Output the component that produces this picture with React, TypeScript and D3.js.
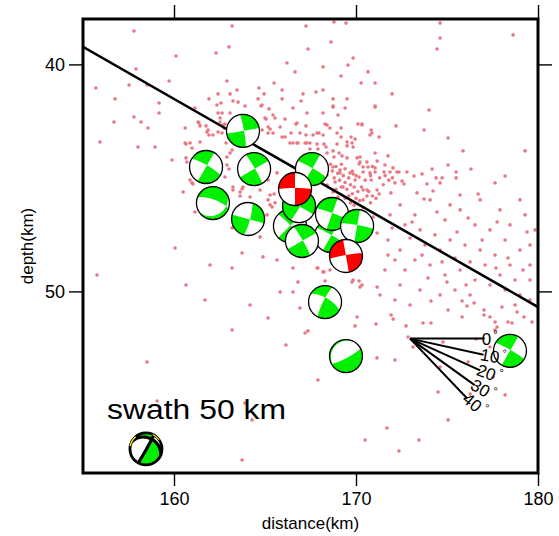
import React, { useEffect, useRef } from "react";
import * as d3 from "d3";

const xTicks = [160, 170, 180];
const yTicks = [40, 50];

// top of slab
const slabDistance = [155, 180];
const slabDepth = [39.23, 50.69];

// hypocentres [distance km, depth km]
const quakes: [number, number][] = [
  [157.8, 38.53], [163.19, 38.31], [163.02, 39.23], [162.31, 39.5], [160.11, 39.63], [157.91, 40.2],
  [155.71, 41.04], [157.53, 40.91], [158.52, 40.91], [159.73, 40.73], [162.91, 40.73], [156.76, 41.52],
  [159.18, 41.7], [159.18, 42.14], [157.8, 42.32], [156.7, 42.54], [158.19, 42.54], [158.57, 42.8],
  [155.93, 43.42], [158.02, 43.64], [158.96, 43.64], [159.89, 44.21], [160.66, 43.51], [161.15, 41.92],
  [161.92, 41.52], [162.42, 41.3], [162.58, 41.7], [163.08, 41.3], [163.46, 41.13], [163.52, 41.66],
  [163.24, 41.61], [162.36, 41.79], [162.42, 42.14], [162.64, 42.14], [163.9, 41.83], [164.67, 41.04],
  [164.62, 41.52], [165.5, 40.82], [164.95, 41.3], [165.22, 41.96], [164.78, 41.83], [162.53, 42.54],
  [161.76, 42.71], [161.37, 42.58], [161.43, 42.71], [161.81, 42.98], [161.92, 43.11], [162.14, 43.11],
  [162.42, 42.98], [162.64, 43.02], [162.75, 42.8], [162.8, 42.63], [160.88, 43.46], [160.99, 43.68],
  [162.86, 43.46], [163.08, 43.9], [163.02, 44.61], [162.91, 44.08], [160.66, 44.12], [160.99, 45.22],
  [160.5, 45.62], [163.24, 45.4], [163.63, 45.62], [165.06, 42.41], [165.28, 42.85], [165.17, 43.02],
  [165.55, 42.36], [167.25, 38.31], [168.79, 38.13], [169.45, 38.18], [174.62, 38.18], [174.62, 38.84],
  [174.45, 39.32], [178.63, 38.7], [168.63, 39.01], [167.36, 39.32], [166.21, 39.94], [166.65, 40.33],
  [168.19, 40.11], [169.84, 39.72], [169.56, 40.03], [170.66, 40.33], [169.18, 40.51], [170.28, 40.82],
  [171.05, 40.82], [165.94, 41.13], [167.8, 41.22], [168.19, 41.13], [167.09, 41.3], [171.98, 41.3],
  [165.94, 41.52], [166.98, 41.61], [168.74, 41.52], [169.51, 41.52], [168.74, 41.83], [169.4, 41.92],
  [171.05, 41.83], [166.54, 41.92], [174.01, 42.01], [169.01, 42.23], [166.1, 42.41], [166.7, 42.63],
  [167.25, 42.71], [168.3, 42.63], [168.57, 42.8], [169.18, 42.8], [170.11, 42.63], [170.33, 42.63],
  [172.2, 42.71], [170.83, 42.89], [170.77, 43.11], [171.27, 43.2], [173.74, 42.89], [175.06, 43.24],
  [175.88, 43.81], [179.29, 43.81], [166.43, 43.02], [166.92, 43.02], [167.25, 43.11], [167.64, 43.11],
  [167.97, 43.02], [168.19, 43.11], [165.94, 43.2], [166.54, 43.46], [166.81, 43.46], [167.2, 43.46],
  [167.47, 43.46], [167.86, 43.51], [168.24, 43.51], [168.96, 43.51], [169.18, 43.2], [169.73, 43.2],
  [169.95, 43.29], [169.51, 43.59], [169.78, 43.46], [167.47, 43.73], [167.91, 43.73], [168.35, 43.64],
  [168.74, 43.81], [168.41, 43.9], [169.07, 43.9], [168.79, 44.08], [169.23, 44.03], [169.51, 44.12],
  [170.06, 44.12], [170.22, 44.3], [170.17, 44.39], [170.66, 44.52], [171.16, 44.26], [171.59, 44.43],
  [171.76, 44.03], [172.03, 44.56], [172.36, 44.74], [170.39, 44.74], [170.77, 44.78], [171.05, 44.74],
  [171.54, 44.74], [171.87, 44.74], [172.25, 44.74], [172.8, 44.74], [173.19, 44.92], [173.63, 44.83],
  [174.18, 44.61], [174.4, 45.0], [174.73, 45.0], [175.06, 44.43], [175.5, 44.74], [175.5, 45.0],
  [176.32, 44.61], [178.19, 44.92], [177.64, 45.22], [176.71, 45.71], [173.9, 45.27], [174.23, 45.58],
  [174.62, 45.22], [173.35, 45.66], [173.74, 45.93], [172.64, 45.27], [172.53, 45.14], [172.14, 45.22],
  [171.92, 45.66], [170.39, 45.53], [170.61, 45.53], [171.16, 45.53], [171.27, 45.71], [170.83, 45.09],
  [170.17, 44.96], [169.84, 44.83], [169.67, 44.78], [169.12, 44.65], [168.74, 44.52], [160.61, 43.46],
  [160.71, 44.3], [160.88, 45.09], [161.32, 42.54], [161.87, 42.89], [162.53, 42.36], [162.69, 42.67],
  [163.08, 42.14], [164.84, 41.79], [165.44, 42.23], [165.0, 42.36], [165.17, 42.76], [164.84, 42.89],
  [165.44, 43.02], [165.83, 42.76], [166.1, 43.2], [166.76, 42.58], [166.37, 43.46], [166.76, 43.46],
  [167.31, 43.46], [167.86, 43.02], [168.41, 42.67], [168.96, 43.02], [169.51, 43.42], [169.84, 43.64],
  [170.33, 42.67], [170.88, 43.02], [171.05, 41.88], [168.74, 41.88], [163.19, 43.77], [162.91, 44.43],
  [162.8, 44.96], [163.24, 45.53], [163.79, 45.4], [164.18, 45.84], [164.73, 45.53], [165.17, 45.09],
  [165.66, 44.78], [165.39, 46.28], [165.11, 46.63], [165.17, 45.97], [164.73, 47.6], [163.74, 48.31],
  [163.19, 48.97], [164.89, 48.48], [165.66, 48.62], [166.54, 48.97], [165.83, 50.03], [166.54, 50.03],
  [167.86, 48.97], [168.19, 49.14], [169.84, 49.5], [170.33, 49.72], [171.16, 49.81], [171.16, 47.43],
  [170.94, 46.72], [170.39, 45.97], [169.95, 45.09], [170.39, 44.52], [171.05, 44.56], [170.22, 44.08],
  [171.05, 43.9], [169.12, 44.78], [168.41, 44.87], [168.85, 45.18], [169.29, 45.4], [168.74, 45.62],
  [168.41, 45.31], [169.01, 45.84], [166.81, 49.59], [160.61, 42.8], [161.43, 43.42], [167.31, 42.14],
  [168.19, 42.14], [171.93, 51.04], [172.04, 51.22], [172.75, 51.52], [173.68, 51.39], [174.12, 51.39],
  [175.06, 50.82], [175.83, 51.13], [176.1, 50.64], [176.49, 50.51], [177.03, 51.04], [177.36, 51.13],
  [177.64, 51.35], [178.02, 50.69], [178.35, 51.35], [178.57, 51.39], [178.85, 50.91], [179.23, 51.13],
  [179.67, 51.35], [174.12, 50.42], [175.83, 50.42], [177.03, 50.82], [177.75, 51.57], [177.64, 51.7],
  [172.86, 52.01], [173.13, 52.45], [173.52, 52.49], [174.78, 52.23], [176.6, 52.1], [177.36, 52.45],
  [176.16, 53.11], [174.62, 53.33], [177.53, 53.77], [171.7, 56.02], [173.46, 56.55], [172.36, 57.03],
  [159.07, 54.83], [163.74, 57.43], [168.3, 49.54], [169.78, 49.59], [170.17, 49.54], [170.22, 49.81],
  [166.92, 50.73], [170.06, 51.13], [169.95, 51.52], [171.1, 51.44], [167.36, 51.74], [167.2, 51.83],
  [171.15, 52.93], [161.04, 45.27], [163.63, 45.8], [163.74, 45.49], [165.28, 45.75], [165.5, 45.71],
  [165.28, 46.19], [165.55, 46.1], [161.15, 46.5], [163.19, 47.21], [167.91, 48.97], [168.24, 49.14],
  [168.57, 49.06], [168.6, 44.4], [168.9, 44.5], [169.2, 44.4], [169.4, 44.6], [168.7, 44.7], [169.0, 44.8],
  [169.3, 44.9], [169.6, 45.0], [168.8, 45.0], [169.1, 45.1], [169.4, 45.2], [169.7, 45.3], [169.9, 45.4],
  [169.2, 45.4], [169.5, 45.5], [168.9, 45.5], [169.8, 45.7], [170.1, 45.6], [169.6, 45.8], [170.0, 45.9],
  [169.4, 45.9], [169.7, 46.1], [170.2, 46.0], [169.9, 46.2], [170.4, 46.3], [170.6, 45.8], [170.3, 45.4],
  [170.5, 45.1], [170.8, 44.9], [171.3, 45.0], [171.5, 45.3], [171.8, 45.1], [171.6, 44.9], [172.0, 45.0],
  [170.6, 44.3], [170.9, 44.5], [169.8, 44.7], [170.0, 44.9], [170.7, 45.6], [170.9, 45.8], [171.1, 45.9],
  [170.8, 46.1], [172.42, 46.19], [173.24, 46.63], [174.07, 45.97], [174.89, 46.85], [175.72, 46.41],
  [176.54, 47.07], [177.36, 47.29], [178.19, 47.74], [179.01, 48.18], [179.56, 48.84], [178.46, 48.84],
  [177.64, 48.4], [176.82, 48.18], [175.99, 47.96], [175.17, 47.74], [174.34, 47.51], [173.52, 47.29],
  [172.69, 47.07], [171.87, 46.63], [171.76, 47.74], [172.42, 48.18], [173.24, 48.62], [174.07, 48.84],
  [174.89, 49.28], [175.72, 49.06], [176.54, 49.5], [177.36, 49.72], [178.19, 49.94], [179.01, 50.16],
  [179.56, 49.5], [178.74, 49.5], [177.91, 49.28], [177.09, 48.84], [176.27, 48.7], [175.44, 48.53],
  [174.62, 48.18], [173.79, 47.96], [172.97, 47.65], [172.14, 48.62], [171.59, 49.06], [172.42, 49.72],
  [173.52, 49.94], [174.62, 50.16], [175.44, 49.94], [176.27, 50.16], [179.84, 47.29], [179.29, 46.63],
  [177.91, 46.41], [176.82, 45.97], [175.72, 45.75], [175.17, 46.19], [179.01, 45.97], [178.46, 47.07],
  [179.56, 47.96], [172.14, 50.38], [172.97, 50.6], [171.32, 50.16], [171.98, 47.21], [173.08, 46.94],
  [174.45, 46.5], [176.16, 46.77], [177.75, 46.94], [179.4, 47.38], [176.93, 47.74], [175.55, 47.38],
  [174.73, 48.7], [173.63, 48.4], [178.35, 48.53], [179.18, 49.06], [177.69, 48.97], [176.05, 49.72],
  [175.0, 49.59], [173.96, 49.41], [172.69, 49.06], [171.76, 48.4], [179.56, 50.38], [178.74, 50.6],
  [155.77, 49.28], [158.52, 53.11], [163.9, 54.92], [164.29, 55.66], [167.91, 53.9], [170.5, 56.55],
  [174.51, 54.43], [176.27, 54.52], [178.19, 54.56], [166.15, 52.36], [163.19, 51.7], [165.17, 51.17],
  [161.7, 50.38], [164.18, 50.6], [172.14, 53.02], [175.06, 55.66], [160.06, 48.09], [161.98, 48.84],
  [160.66, 49.72],
];

// focal mechanisms (drawn back to front)
const mechDistance = [163.79, 161.76, 164.4, 162.14, 164.07, 166.37, 168.63, 166.87, 167.03, 167.58, 166.65, 168.68, 170.06, 169.45, 168.3, 169.45, 178.46];
const mechDepth = [42.93, 44.52, 44.61, 46.11, 46.81, 47.12, 47.56, 46.24, 47.78, 44.61, 45.49, 46.59, 47.12, 48.44, 50.47, 52.85, 52.62];
const mechStrike = [350, 300, 330, 290, 15, 315, 300, 30, 330, 300, 270, 290, 280, 260, 300, 62, 300];
const mechDip = [85, 80, 85, 72, 80, 85, 85, 85, 85, 85, 85, 85, 85, 85, 70, 80, 85];
const mechRake = [0, 0, 0, -70, 0, 0, 0, 0, 0, 0, 0, 0, 0, 0, 10, -85, 0];
const mechFill = ["#00f000", "#00f000", "#00f000", "#00f000", "#00f000", "#00f000", "#00f000", "#00f000", "#00f000", "#00f000", "#ff0000", "#00f000", "#00f000", "#ff0000", "#00f000", "#00f000", "#00f000"];

// reference mechanism bottom left
const refMech = { distance: 158.46, depth: 56.94, strike: 295, dip: 30, rake: -5 };

// dip fan
const fanAngles = [0, 10, 20, 30, 40];
const fanOrigin = [172.97, 52.08];
const fanLength = 4.1;

const FONT = "'Liberation Sans', Arial, Helvetica, sans-serif";
const BALL_R = 16.5;

type V3 = [number, number, number];
const rad = Math.PI / 180;

function cross(a: V3, b: V3): V3 {
  return [a[1] * b[2] - a[2] * b[1], a[2] * b[0] - a[0] * b[2], a[0] * b[1] - a[1] * b[0]];
}
function unit(a: V3): V3 {
  const l = Math.hypot(a[0], a[1], a[2]);
  return [a[0] / l, a[1] / l, a[2] / l];
}
// lower hemisphere equal-area, vector in north-east-down
function proj(v: V3, R: number): [number, number] {
  const th = Math.acos(Math.max(0, Math.min(1, v[2])));
  const r = Math.SQRT2 * Math.sin(th / 2) * R;
  const hn = Math.hypot(v[0], v[1]);
  if (hn < 1e-9) return [0, 0];
  return [(r * v[1]) / hn, (-r * v[0]) / hn];
}
function circlePath(R: number) {
  return `M${R},0A${R},${R} 0 1,1 ${-R},0A${R},${R} 0 1,1 ${R},0Z`;
}
function nodalPoints(v: V3, R: number, n = 60) {
  const h = unit([v[1], -v[0], 0]);
  let w = unit(cross(v, h));
  if (w[2] < 0) w = [-w[0], -w[1], -w[2]];
  const pts: [number, number][] = [];
  for (let i = 0; i <= n; i++) {
    const t = (Math.PI * i) / n;
    pts.push(proj([h[0] * Math.cos(t) + w[0] * Math.sin(t), h[1] * Math.cos(t) + w[1] * Math.sin(t), h[2] * Math.cos(t) + w[2] * Math.sin(t)], R));
  }
  return { pts, h };
}
// region of the lower hemisphere where v.x > 0
function halfSpace(v: V3, R: number) {
  if (Math.hypot(v[0], v[1]) < 1e-6) return v[2] > 0 ? circlePath(R) : "";
  const n = 60;
  const { pts, h } = nodalPoints(v, R, n);
  const vh = unit([v[0], v[1], 0]);
  for (let i = 1; i < n; i++) {
    const s = (Math.PI * i) / n;
    pts.push(proj([-h[0] * Math.cos(s) + vh[0] * Math.sin(s), -h[1] * Math.cos(s) + vh[1] * Math.sin(s), 0], R));
  }
  return "M" + pts.map((p) => p[0].toFixed(2) + "," + p[1].toFixed(2)).join("L") + "Z";
}
function faultVectors(strike: number, dip: number, rake: number) {
  const f = strike * rad, d = dip * rad, l = rake * rad;
  const nv: V3 = [-Math.sin(d) * Math.sin(f), Math.sin(d) * Math.cos(f), -Math.cos(d)];
  const sv: V3 = [
    Math.cos(l) * Math.cos(f) + Math.cos(d) * Math.sin(l) * Math.sin(f),
    Math.cos(l) * Math.sin(f) - Math.cos(d) * Math.sin(l) * Math.cos(f),
    -Math.sin(l) * Math.sin(d),
  ];
  return { nv, sv };
}
function beachPath(strike: number, dip: number, rake: number, R: number) {
  const { nv, sv } = faultVectors(strike, dip, rake);
  return circlePath(R) + halfSpace(nv, R) + halfSpace(sv, R);
}

export default function App() {
  const ref = useRef<SVGSVGElement>(null);

  useEffect(() => {
    const svg = d3.select(ref.current);
    svg.selectAll("*").remove();

    const x = d3.scaleLinear().domain([155, 180]).range([83, 538]);
    const y = d3.scaleLinear().domain([38, 58]).range([19, 473]);

    const defs = svg.append("defs");
    defs.append("clipPath").attr("id", "plotclip")
      .append("rect").attr("x", 83).attr("y", 19).attr("width", 455).attr("height", 454);

    const plot = svg.append("g").attr("clip-path", "url(#plotclip)");

    plot.selectAll("circle.eq")
      .data(quakes)
      .join("circle")
      .attr("class", "eq")
      .attr("cx", (d) => x(d[0]))
      .attr("cy", (d) => y(d[1]))
      .attr("r", 1.8)
      .attr("fill", "#e87884");

    const line = d3.line<number>().x((d, i) => x(slabDistance[i])).y((d) => y(d));
    plot.append("path")
      .attr("d", line(slabDepth))
      .attr("fill", "none")
      .attr("stroke", "#000")
      .attr("stroke-width", 2.5);

    // beach balls
    mechDistance.forEach((dist, i) => {
      const g = plot.append("g").attr("transform", `translate(${x(dist)},${y(mechDepth[i])})`);
      g.append("circle").attr("r", BALL_R).attr("fill", "#fff");
      g.append("path")
        .attr("d", beachPath(mechStrike[i], mechDip[i], mechRake[i], BALL_R))
        .attr("fill", mechFill[i])
        .attr("fill-rule", "evenodd");
      g.append("circle").attr("r", BALL_R).attr("fill", "none").attr("stroke", "#000").attr("stroke-width", 1.3);
    });

    // reference mechanism
    {
      const R = 16;
      const g = plot.append("g").attr("transform", `translate(${x(refMech.distance)},${y(refMech.depth)})`);
      g.append("circle").attr("r", R).attr("fill", "#fff");
      g.append("path")
        .attr("d", beachPath(refMech.strike, refMech.dip, refMech.rake, R))
        .attr("fill", "#00f000")
        .attr("fill-rule", "evenodd");
      const { nv, sv } = faultVectors(refMech.strike, refMech.dip, refMech.rake);
      [nv, sv].forEach((v) => {
        const { pts } = nodalPoints(v, R);
        g.append("path")
          .attr("d", d3.line()(pts))
          .attr("fill", "none")
          .attr("stroke", "#000")
          .attr("stroke-width", 3.2);
      });
      g.append("circle").attr("r", R).attr("fill", "none").attr("stroke", "#000").attr("stroke-width", 2.8);
      const arc = d3.arc();
      [[-80, -40], [25, 55]].forEach(([a0, a1]) => {
        g.append("path")
          .attr("d", arc({ innerRadius: R - 0.6, outerRadius: R + 0.6, startAngle: a0 * rad, endAngle: a1 * rad } as any))
          .attr("fill", "#ffff00");
      });
    }

    // dip angle fan
    const ox = x(fanOrigin[0]);
    const oy = y(fanOrigin[1]);
    fanAngles.forEach((a) => {
      const ex = x(fanOrigin[0] + fanLength * Math.cos(a * rad));
      const ey = y(fanOrigin[1] + fanLength * Math.sin(a * rad));
      svg.append("line")
        .attr("x1", ox).attr("y1", oy).attr("x2", ex).attr("y2", ey)
        .attr("stroke", "#000").attr("stroke-width", 2);
      const ang = Math.atan2(ey - oy, ex - ox);
      const t = svg.append("text")
        .attr("transform", `translate(${ex - 3 * Math.cos(ang)},${ey - 3 * Math.sin(ang)}) rotate(${a})`)
        .attr("dominant-baseline", "central")
        .attr("font-family", FONT)
        .attr("font-size", 17)
        .attr("fill", "#000");
      t.append("tspan").text(String(a));
      t.append("tspan").attr("font-size", 11).attr("dy", -5).attr("dx", 2).text("°");
    });

    svg.append("text")
      .attr("x", 107).attr("y", 419)
      .attr("font-family", FONT).attr("font-size", 27)
      .attr("textLength", 179).attr("lengthAdjust", "spacingAndGlyphs")
      .text("swath 50 km");

    // frame
    svg.append("rect")
      .attr("x", 83).attr("y", 19).attr("width", 455).attr("height", 454)
      .attr("fill", "none").attr("stroke", "#000").attr("stroke-width", 3);

    const styleAxis = (g: d3.Selection<SVGGElement, unknown, null, undefined>) => {
      g.select(".domain").remove();
      g.selectAll("line").attr("stroke", "#000").attr("stroke-width", 1.4);
      g.selectAll("text").attr("font-family", FONT).attr("font-size", 18).attr("fill", "#000");
    };

    svg.append("g").attr("transform", `translate(0,${y(58)})`)
      .call(d3.axisBottom(x).tickValues(xTicks).tickSize(13).tickPadding(6).tickFormat(d3.format("d")))
      .call(styleAxis as any);
    svg.append("g").attr("transform", `translate(0,${y(38)})`)
      .call(d3.axisTop(x).tickValues(xTicks).tickSize(14).tickFormat(() => ""))
      .call(styleAxis as any);
    svg.append("g").attr("transform", `translate(${x(155)},0)`)
      .call(d3.axisLeft(y).tickValues(yTicks).tickSize(14).tickPadding(4).tickFormat(d3.format("d")))
      .call(styleAxis as any);
    svg.append("g").attr("transform", `translate(${x(180)},0)`)
      .call(d3.axisRight(y).tickValues(yTicks).tickSize(14).tickFormat(() => ""))
      .call(styleAxis as any);

    svg.append("text")
      .attr("x", 310.5).attr("y", 529)
      .attr("text-anchor", "middle")
      .attr("font-family", FONT).attr("font-size", 17)
      .text("distance(km)");
    svg.append("text")
      .attr("transform", `translate(33,246) rotate(-90)`)
      .attr("text-anchor", "middle")
      .attr("font-family", FONT).attr("font-size", 17)
      .text("depth(km)");
  }, []);

  return (
    <svg
      ref={ref}
      width={559}
      height={536}
      style={{ position: "absolute", left: 0, top: 0, background: "#fff" }}
    />
  );
}
